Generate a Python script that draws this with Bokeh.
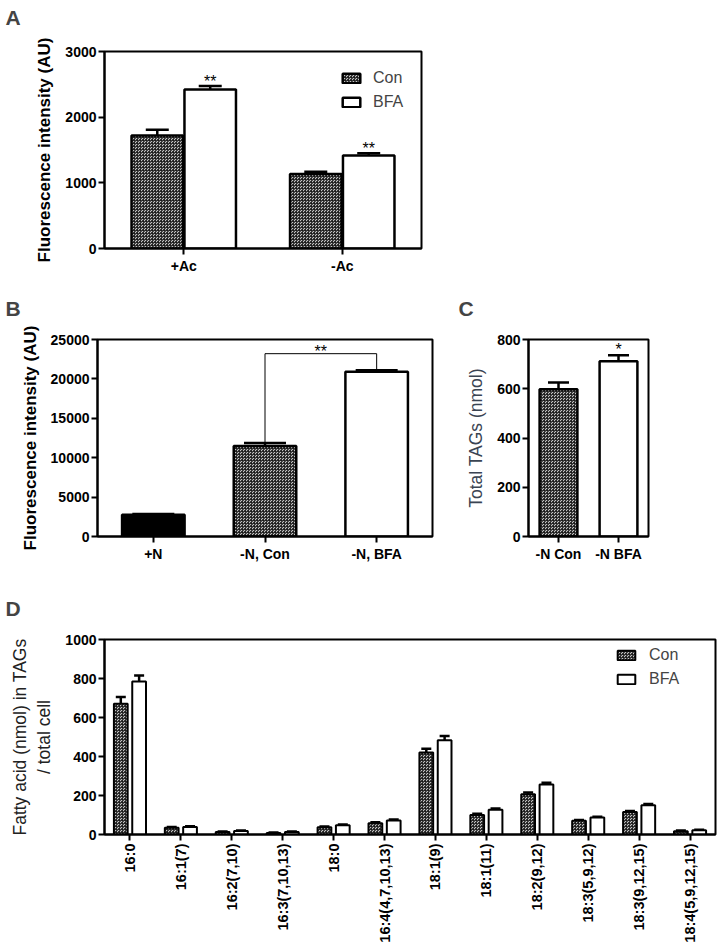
from math import pi
from bokeh.plotting import figure
from bokeh.models import ColumnDataSource, Range1d, FactorRange, FixedTicker, Legend, LegendItem
from bokeh.transform import dodge
from bokeh.layouts import column, row
from bokeh.core.properties import value
from bokeh.embed import file_html
from bokeh.resources import INLINE

FONT = "Liberation Sans"

# ---------------- data ----------------
a_groups = ["+Ac", "-Ac"]
a_con = [1720, 1135]
a_con_err = [90, 32]
a_bfa = [2420, 1415]
a_bfa_err = [55, 35]
a_sig = ["**", "**"]

b_groups = ["+N", "-N, Con", "-N, BFA"]
b_vals = [2750, 11500, 20900]
b_err = [120, 350, 200]
b_bracket = 23200
b_sig = "**"

c_groups = ["-N Con", "-N BFA"]
c_vals = [598, 712]
c_err = [27, 24]
c_sig = ["", "*"]

d_acids = ["16:0", "16:1(7)", "16:2(7,10)", "16:3(7,10,13)", "18:0", "16:4(4,7,10,13)",
           "18:1(9)", "18:1(11)", "18:2(9,12)", "18:3(5,9,12)", "18:3(9,12,15)", "18:4(5,9,12,15)"]
d_con = [670, 35, 13, 8, 37, 58, 420, 100, 207, 70, 115, 17]
d_con_err = [35, 4, 3, 2, 4, 5, 20, 6, 8, 4, 6, 3]
d_bfa = [785, 38, 18, 13, 47, 72, 483, 127, 257, 87, 150, 22]
d_bfa_err = [30, 4, 3, 2, 4, 5, 22, 6, 8, 4, 6, 3]

# ---------------- styles ----------------
GRAY = "#c4c4c4"
CHECK = dict(fill_color=GRAY, hatch_pattern="criss_cross", hatch_color="#1a1a1a",
             hatch_scale=3, hatch_weight=1, hatch_alpha=0.8)
WHITE = dict(fill_color="white")


def base_fig(width, height, factors, y_end, y_ticks, left, right, top, bottom,
             ylabel, ylabel_bold=True, ylabel_size="17px", ylabel_color="black",
             tick_size="14px", letter="", letter_offset=0, letter_lh=1.0):
    p = figure(width=width, height=height, x_range=FactorRange(*factors, range_padding=0),
               y_range=Range1d(0, y_end), output_backend="svg", toolbar_location=None,
               min_border_left=left, min_border_right=right, min_border_top=top,
               min_border_bottom=bottom)
    p.title.text = letter + "\n "
    p.title.align = "left"
    p.title.offset = letter_offset
    p.title.standoff = 0
    p.title.text_line_height = letter_lh
    p.title.text_font = FONT
    p.title.text_font_size = "21px"
    p.title.text_font_style = "bold"
    p.xgrid.visible = False
    p.ygrid.visible = False
    p.outline_line_color = "black"
    p.outline_line_width = 2
    p.background_fill_color = "white"
    for ax in (p.xaxis[0], p.yaxis[0]):
        ax.axis_line_width = 2
        ax.axis_line_color = "black"
        ax.major_tick_line_width = 2
        ax.major_tick_out = 6
        ax.major_tick_in = 0
        ax.minor_tick_line_color = None
        ax.major_label_text_font = FONT
        ax.major_label_text_font_style = "bold"
        ax.major_label_text_font_size = tick_size
        ax.major_label_text_color = "black"
        ax.axis_label_text_font = FONT
    p.yaxis.ticker = FixedTicker(ticks=y_ticks)
    p.yaxis.major_label_standoff = 2
    p.xaxis.major_label_standoff = 3
    p.yaxis.axis_label = ylabel
    p.yaxis.axis_label_text_font_style = "bold" if ylabel_bold else "normal"
    p.yaxis.axis_label_text_font_size = ylabel_size
    p.yaxis.axis_label_text_color = ylabel_color
    p.yaxis.axis_label_standoff = 8
    return p


def err_bars(p, src, xspec, top, up, cap):
    p.segment(x0=xspec, y0=top, x1=xspec, y1=up, source=src, line_color="black", line_width=2.5)
    p.scatter(x=xspec, y=up, source=src, marker="dash", size=cap, line_color="black", line_width=2.5)


# ---------------- Panel A ----------------
pa = base_fig(427, 293, a_groups, 3000, [0, 1000, 2000, 3000], 104, 6, 51, 45,
              "Fluorescence intensity (AU)", letter="A", letter_offset=-99, letter_lh=0.97)
src_a = ColumnDataSource(dict(
    g=a_groups, con=a_con, bfa=a_bfa,
    con_up=[v + e for v, e in zip(a_con, a_con_err)],
    bfa_up=[v + e for v, e in zip(a_bfa, a_bfa_err)],
    sig=a_sig))
xa_c = dodge("g", -0.167, range=pa.x_range)
xa_b = dodge("g", 0.167, range=pa.x_range)
err_bars(pa, src_a, xa_c, "con", "con_up", 23)
err_bars(pa, src_a, xa_b, "bfa", "bfa_up", 23)
ra_c = pa.vbar(x=xa_c, top="con", width=0.325, source=src_a, line_color="black", line_width=2.5, **CHECK)
ra_b = pa.vbar(x=xa_b, top="bfa", width=0.325, source=src_a, line_color="black", line_width=2.5, **WHITE)
pa.text(x=xa_b, y="bfa_up", text="sig", source=src_a, text_font=value(FONT), text_font_size="16px",
        text_align="center", text_baseline="bottom", y_offset=4)
leg_a = Legend(items=[LegendItem(label="Con", renderers=[ra_c]), LegendItem(label="BFA", renderers=[ra_b])],
               location=(236, 136), margin=0, padding=0, spacing=4, glyph_width=22, glyph_height=12,
               label_height=20, label_standoff=11, border_line_alpha=0, background_fill_alpha=0,
               label_text_font=FONT, label_text_font_size="16px")
pa.add_layout(leg_a)

# ---------------- Panel B ----------------
pb = base_fig(440, 300, b_groups, 25000, [0, 5000, 10000, 15000, 20000, 25000], 97, 8, 46, 57,
              "Fluorescence intensity (AU)", letter="B", letter_offset=-92, letter_lh=0.86)
src_b = ColumnDataSource(dict(
    g=b_groups, v=b_vals, up=[v + e for v, e in zip(b_vals, b_err)],
    fill=["black", GRAY, "white"],
    hatch=[" ", "criss_cross", " "]))
err_bars(pb, src_b, "g", "v", "up", 42)
pb.vbar(x="g", top="v", width=0.56, source=src_b, line_color="black", line_width=2.5,
        fill_color="fill", hatch_pattern="hatch", hatch_color="#1a1a1a", hatch_scale=3,
        hatch_weight=1, hatch_alpha=0.8)
br_x = [b_groups[1], b_groups[1], b_groups[2], b_groups[2]]
br_y = [b_vals[1] + b_err[1], b_bracket, b_bracket, b_vals[2] + b_err[2]]
pb.line(x=br_x, y=br_y, line_color="black", line_width=1)
src_bs = ColumnDataSource(dict(g=[b_groups[1]], y=[b_bracket], t=[b_sig]))
pb.text(x=dodge("g", 0.5, range=pb.x_range), y="y", text="t", source=src_bs, text_font=value(FONT),
        text_font_size="16px", text_align="center", text_baseline="bottom", y_offset=6)

# ---------------- Panel C ----------------
pc = base_fig(281, 300, c_groups, 800, [0, 200, 400, 600, 800], 88, 73, 46, 54,
              "Total TAGs (nmol)", ylabel_bold=False, ylabel_size="17.5px", ylabel_color="#3a4452",
              letter="C", letter_offset=-70, letter_lh=0.86)
src_c = ColumnDataSource(dict(
    g=c_groups, v=c_vals, up=[v + e for v, e in zip(c_vals, c_err)], sig=c_sig,
    fill=[GRAY, "white"], hatch=["criss_cross", " "]))
err_bars(pc, src_c, "g", "v", "up", 21)
pc.vbar(x="g", top="v", width=0.63, source=src_c, line_color="black", line_width=2.5,
        fill_color="fill", hatch_pattern="hatch", hatch_color="#1a1a1a", hatch_scale=3,
        hatch_weight=1, hatch_alpha=0.8)
pc.text(x="g", y="up", text="sig", source=src_c, text_font=value(FONT), text_font_size="16px",
        text_align="center", text_baseline="bottom", y_offset=3)

# ---------------- Panel D ----------------
pd_ = base_fig(721, 352, d_acids, 1000, [0, 200, 400, 600, 800, 1000], 104, 6, 46, 108,
               "Fatty acid (nmol) in TAGs\n/ total cell", ylabel_bold=False, ylabel_size="17.5px",
               ylabel_color="#222222", tick_size="14px", letter="D", letter_offset=-99, letter_lh=0.85)
pd_.xaxis.major_label_orientation = pi / 2
pd_.xaxis.major_label_text_font_size = "14.5px"
src_d = ColumnDataSource(dict(
    g=d_acids, con=d_con, bfa=d_bfa,
    con_up=[v + e for v, e in zip(d_con, d_con_err)],
    bfa_up=[v + e for v, e in zip(d_bfa, d_bfa_err)]))
xd_c = dodge("g", -0.18, range=pd_.x_range)
xd_b = dodge("g", 0.18, range=pd_.x_range)
err_bars(pd_, src_d, xd_c, "con", "con_up", 10)
err_bars(pd_, src_d, xd_b, "bfa", "bfa_up", 10)
rd_c = pd_.vbar(x=xd_c, top="con", width=0.27, source=src_d, line_color="black", line_width=2, **CHECK)
rd_b = pd_.vbar(x=xd_b, top="bfa", width=0.27, source=src_d, line_color="black", line_width=2, **WHITE)
leg_d = Legend(items=[LegendItem(label="Con", renderers=[rd_c]), LegendItem(label="BFA", renderers=[rd_b])],
               location=(511, 145), margin=0, padding=0, spacing=4, glyph_width=22, glyph_height=12,
               label_height=20, label_standoff=12, border_line_alpha=0, background_fill_alpha=0,
               label_text_font=FONT, label_text_font_size="16px")
pd_.add_layout(leg_d)

layout = column(pa, row(pb, pc, spacing=0), pd_, spacing=0)
open("out.html", "w").write(file_html(layout, INLINE))
